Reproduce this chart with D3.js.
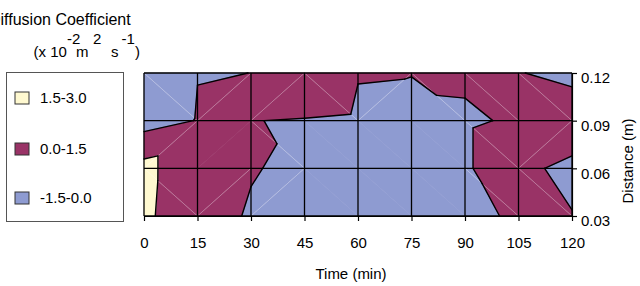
<!DOCTYPE html>
<html>
<head>
<meta charset="utf-8">
<script src="https://cdn.jsdelivr.net/npm/d3@7"></script>
<style>
  body { margin: 0; background: #fff; }
  svg text { font-family: "Liberation Sans", Arial, sans-serif; fill: #000; }
  .axis .domain, .axis line { stroke: #000; stroke-width: 1.2; }
  .axis text { font-size: 15px; }
</style>
</head>
<body>
<svg id="chart" width="640" height="286"></svg>
<script>
// contour of diffusion coefficient over time (x) and distance (y)
const times = [0, 15, 30, 45, 60, 75, 90, 105, 120];
const distances = [0.03, 0.06, 0.09, 0.12];

// coefficient values (x 10^-2 m2 s-1), one row per distance
const coef003 = [1.89, 0.038, -0.008, -0.20, -0.40, -0.35, -0.10, 0.055, 0.023];
const coef006 = [2.01, 0.05, 0.005, -0.018, -0.30, -0.35, -0.026, 0.147, -0.154];
const coef009 = [-0.60, 0.05, 0.017, -0.053, -0.156, -0.26, -0.026, 0.024, 0.44];
const coef012 = [-0.95, -0.017, 0.001, 1.00, 0.047, 0.023, 0.029, 0.026, -0.18];

// how each cell is split into triangles: 'u' = bottom-left to top-right, 'd' = top-left to bottom-right
const split003 = ['d', 'u', 'u', 'd', 'd', 'd', 'd', 'd'];
const split006 = ['u', 'u', 'd', 'd', 'd', 'd', 'd', 'u'];
const split009 = ['d', 'u', 'u', 'd', 'u', 'd', 'd', 'd'];

const bandLevels = [-1.5, 0.0, 1.5, 3.0];
const bandNames = ['-1.5-0.0', '0.0-1.5', '1.5-3.0'];
const bandColors = ['#8E9BD1', '#993366', '#FFF9D0'];

const grid = [coef003, coef006, coef009, coef012];
const splits = [split003, split006, split009];

const svg = d3.select('#chart');
const x = d3.scaleLinear().domain([0, 120]).range([144, 572]);
const y = d3.scaleLinear().domain([0.03, 0.12]).range([216, 73]);

const line = d3.line().x(p => x(p[0])).y(p => y(p[1]));

function lerp(a, b, t) {
    return [a[0] + (b[0] - a[0]) * t, a[1] + (b[1] - a[1]) * t, a[2] + (b[2] - a[2]) * t];
}

// keep the part of a polygon where sign * (z - lvl) >= 0
function clip(poly, lvl, sign) {
    const out = [];
    for (let k = 0; k < poly.length; k++) {
        const a = poly[k], b = poly[(k + 1) % poly.length];
        const fa = sign * (a[2] - lvl), fb = sign * (b[2] - lvl);
        if (fa >= 0) out.push(a);
        if ((fa >= 0) !== (fb >= 0)) out.push(lerp(a, b, fa / (fa - fb)));
    }
    return out;
}

function levelSegment(tri, lvl) {
    const pts = [];
    for (let k = 0; k < 3; k++) {
        const a = tri[k], b = tri[(k + 1) % 3];
        const fa = a[2] - lvl, fb = b[2] - lvl;
        if ((fa < 0) !== (fb < 0)) pts.push(lerp(a, b, fa / (fa - fb)));
    }
    return pts.length === 2 ? pts : null;
}

const bandOf = z => z >= 1.5 ? 2 : (z >= 0 ? 1 : 0);

const fillG = svg.append('g');
const seamG = svg.append('g');
const contourG = svg.append('g');
const gridG = svg.append('g');

for (let j = 0; j < distances.length - 1; j++) {
    for (let i = 0; i < times.length - 1; i++) {
        const BL = [times[i], distances[j], grid[j][i]];
        const BR = [times[i + 1], distances[j], grid[j][i + 1]];
        const TL = [times[i], distances[j + 1], grid[j + 1][i]];
        const TR = [times[i + 1], distances[j + 1], grid[j + 1][i + 1]];
        const up = splits[j][i] === 'u';
        const tris = up ? [[BL, TL, TR], [BL, BR, TR]] : [[TL, TR, BR], [TL, BL, BR]];

        tris.forEach(tri => {
            bandColors.forEach((col, b) => {
                let poly = tri;
                if (b > 0) poly = clip(poly, bandLevels[b], 1);
                if (b < bandColors.length - 1 && poly.length) poly = clip(poly, bandLevels[b + 1], -1);
                if (poly.length < 3) return;
                fillG.append('path')
                    .attr('d', line(poly) + 'Z')
                    .attr('fill', col)
                    .attr('stroke', col)
                    .attr('stroke-width', 0.6);
            });
            [0.0, 1.5].forEach(lvl => {
                const seg = levelSegment(tri, lvl);
                if (!seg) return;
                contourG.append('path')
                    .attr('d', line(seg))
                    .attr('stroke', '#000')
                    .attr('stroke-width', 1.4)
                    .attr('stroke-linecap', 'round')
                    .attr('fill', 'none');
            });
        });

        // faint split line shows only where the cell is not one colour
        const bands = new Set([BL, BR, TL, TR].map(p => bandOf(p[2])));
        if (bands.size > 1) {
            seamG.append('path')
                .attr('d', line(up ? [BL, TR] : [TL, BR]))
                .attr('stroke', '#fff')
                .attr('stroke-opacity', 0.4)
                .attr('stroke-width', 0.8);
        }
    }
}

// grid
gridG.selectAll('.vline').data(times).join('line')
    .attr('x1', d => x(d)).attr('x2', d => x(d))
    .attr('y1', y(0.03)).attr('y2', y(0.12))
    .attr('stroke', '#000').attr('stroke-width', 1.3);
gridG.selectAll('.hline').data(distances).join('line')
    .attr('x1', x(0)).attr('x2', x(120))
    .attr('y1', d => y(d)).attr('y2', d => y(d))
    .attr('stroke', '#000').attr('stroke-width', 1.3);

// axes
svg.append('g')
    .attr('class', 'axis')
    .attr('transform', `translate(0,${y(0.03)})`)
    .call(d3.axisBottom(x).tickValues(times).tickSize(5).tickSizeOuter(0).tickPadding(16));

const yAxis = svg.append('g')
    .attr('class', 'axis')
    .attr('transform', `translate(${x(120)},0)`)
    .call(d3.axisRight(y).tickValues(distances).tickFormat(d3.format('.2f')).tickSize(5).tickSizeOuter(0).tickPadding(4));
yAxis.selectAll('text').attr('dy', '0.65em');

svg.selectAll('.axis').attr('font-family', null).attr('font-size', null);

svg.append('text')
    .attr('x', 351).attr('y', 279)
    .attr('text-anchor', 'middle')
    .attr('font-size', 15)
    .text('Time (min)');

svg.append('text')
    .attr('transform', 'translate(633,161) rotate(-90)')
    .attr('text-anchor', 'middle')
    .attr('font-size', 15)
    .text('Distance (m)');

// legend
svg.append('text').attr('x', -11).attr('y', 25).attr('font-size', 16).text('Diffusion Coefficient');
const unitParts = [
    { t: '(x 10', x: 33.5, up: false },
    { t: '-2', x: 67, up: true },
    { t: 'm', x: 76, up: false },
    { t: '2', x: 93, up: true },
    { t: 's', x: 111, up: false },
    { t: '-1', x: 121.5, up: true },
    { t: ')', x: 135, up: false }
];
svg.append('g').selectAll('text').data(unitParts).join('text')
    .attr('x', d => d.x)
    .attr('y', d => d.up ? 43.5 : 57)
    .attr('font-size', 15)
    .text(d => d.t);

svg.append('rect')
    .attr('x', 6.5).attr('y', 72.5).attr('width', 117).attr('height', 149)
    .attr('fill', 'none').attr('stroke', '#555').attr('stroke-width', 1);

const legendOrder = [2, 1, 0];
const legendY = [92, 143, 192];
const items = svg.append('g').selectAll('g').data(legendOrder).join('g')
    .attr('transform', (b, k) => `translate(15,${legendY[k]})`);
items.append('rect')
    .attr('width', 14).attr('height', 12)
    .attr('fill', b => bandColors[b])
    .attr('stroke', '#333').attr('stroke-width', 1);
items.append('text')
    .attr('x', 25).attr('y', 11)
    .attr('font-size', 15)
    .text(b => bandNames[b]);
</script>
</body>
</html>
